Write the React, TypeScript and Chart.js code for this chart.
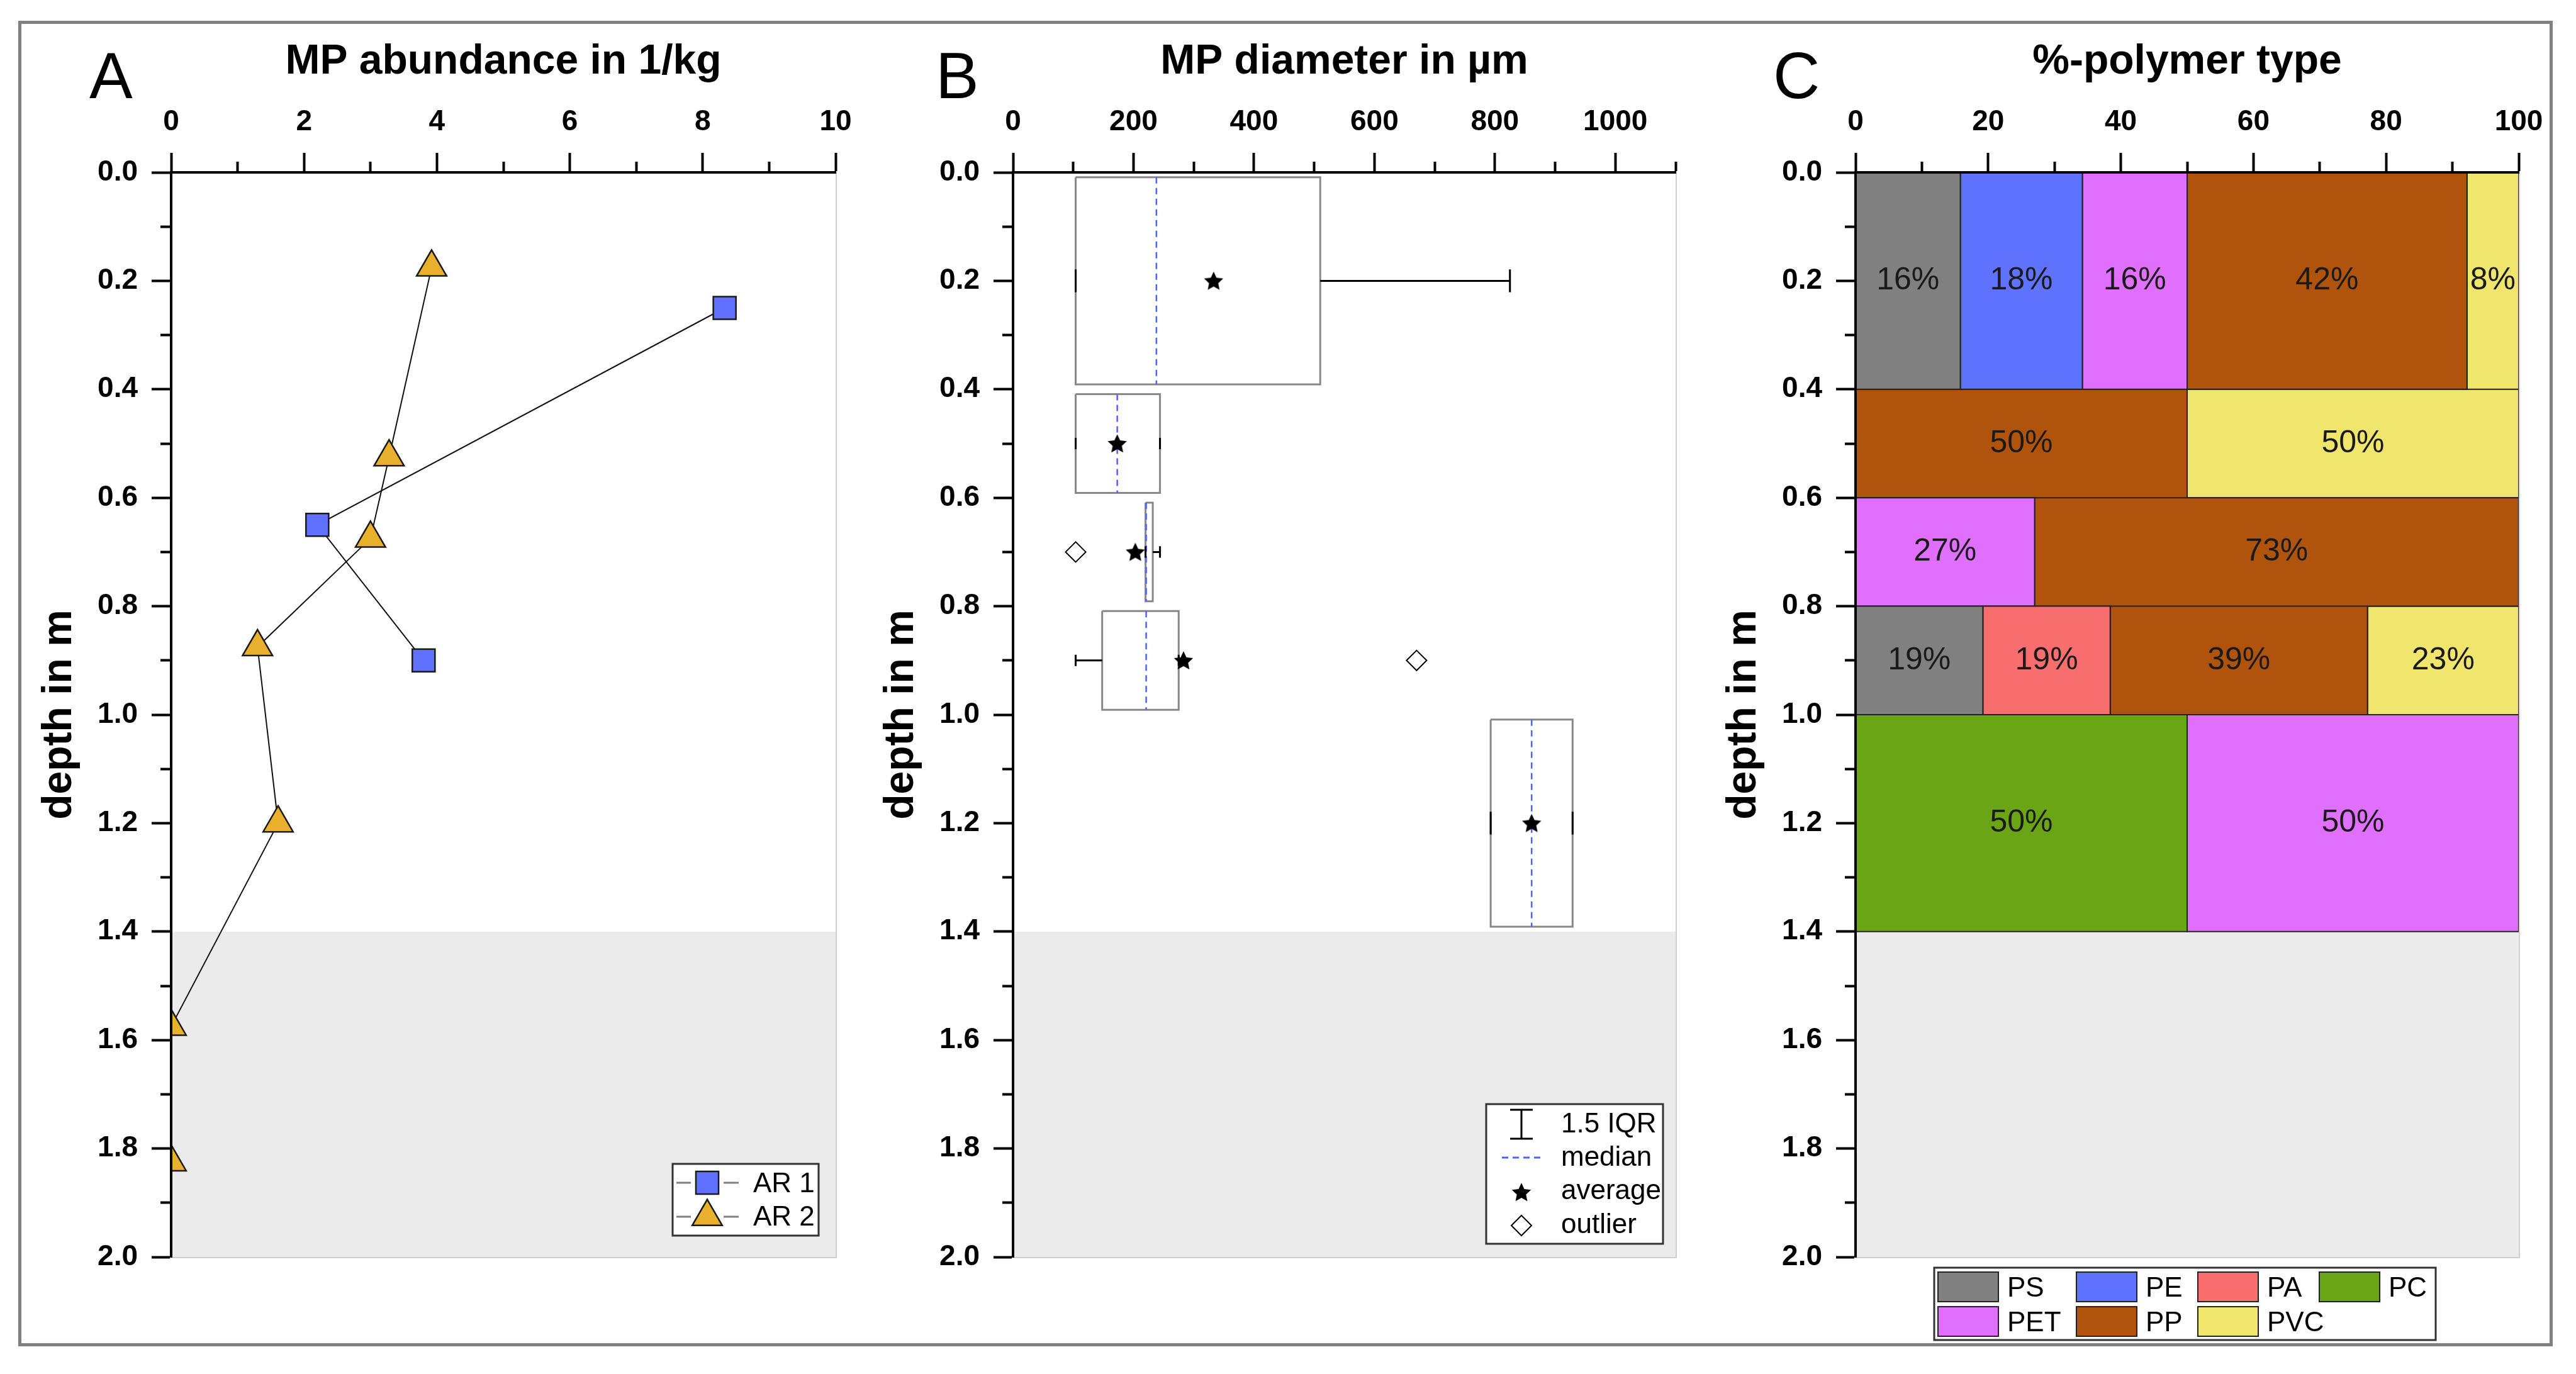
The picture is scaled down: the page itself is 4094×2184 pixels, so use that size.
import React, { useEffect, useRef } from 'react';
import { Chart, registerables } from 'chart.js';
import { drawPoint } from 'chart.js/helpers';

Chart.register(...registerables);

const FONT = "'Liberation Sans', Arial, Helvetica, sans-serif";
const W = 4094;
const H = 2184;

// ---------------- data ----------------
const DEPTH_MIN = 0;
const DEPTH_MAX = 2.0;
const DEPTH_STEP = 0.1;
const UNSAMPLED_FROM = 1.4;

// Panel A: MP abundance
const ABUND_MAX = 10;
const ABUND_TICK_LABELS = [0, 2, 4, 6, 8, 10];
const AR1_ABUNDANCE = [8.33, 2.2, 3.8];
const AR1_DEPTH = [0.25, 0.65, 0.9];
const AR2_ABUNDANCE = [3.92, 3.28, 3.0, 1.3, 1.61, 0, 0];
const AR2_DEPTH = [0.175, 0.525, 0.675, 0.875, 1.2, 1.575, 1.825];

// Panel B: MP diameter box plots (one per depth layer)
const DIAM_MAX = 1100;
const DIAM_TICK_LABELS = [0, 200, 400, 600, 800, 1000];
const LAYER_TOP = [0.0, 0.4, 0.6, 0.8, 1.0];
const LAYER_BOTTOM = [0.4, 0.6, 0.8, 1.0, 1.4];
const DIAM_WHISKER_LOW = [104, 104, 220, 104, 793];
const DIAM_Q1 = [104, 104, 220, 148, 793];
const DIAM_MEDIAN = [238, 173, 221, 221, 861];
const DIAM_Q3 = [510, 244, 232, 275, 929];
const DIAM_WHISKER_HIGH = [825, 244, 244, 275, 929];
const DIAM_MEAN = [333, 173, 203, 283, 861];
const OUTLIER_DIAM = [104, 670];
const OUTLIER_DEPTH = [0.7, 0.9];

// Panel C: polymer type shares per layer (%)
const PCT_MAX = 100;
const PCT_TICK_LABELS = [0, 20, 40, 60, 80, 100];
const POLYMERS = ['PS', 'PE', 'PA', 'PC', 'PET', 'PP', 'PVC'];
const SHARE_PS = [15.8, 0, 0, 19.2, 0];
const SHARE_PE = [18.4, 0, 0, 0, 0];
const SHARE_PA = [0, 0, 0, 19.2, 0];
const SHARE_PC = [0, 0, 0, 0, 50];
const SHARE_PET = [15.8, 0, 27, 0, 50];
const SHARE_PP = [42.2, 50, 73, 38.8, 0];
const SHARE_PVC = [7.8, 50, 0, 22.8, 0];
const SHARES = [SHARE_PS, SHARE_PE, SHARE_PA, SHARE_PC, SHARE_PET, SHARE_PP, SHARE_PVC];

// ---------------- styles / layout ----------------
const POLYMER_COLORS = ['#808080', '#5f72fe', '#f86e6e', '#6aa515', '#e16ffd', '#b0530c', '#f0e66e'];
const BAND_COLOR = '#ebebeb';
const BLUE = '#5f71fe';
const GOLD = '#e9b02e';
const BOX_INSET = 0.009;
const CAP_FRAC = 0.105;

const PLOT_TOP = 274;
const PLOT_BOTTOM = 1998;
const YAXIS_W = 272;
const PANEL_A = { left: 272, right: 1328 };
const PANEL_B = { left: 1610, right: 2663 };
const PANEL_C = { left: 2949, right: 4003 };

const GAP = { x: null, y: null };
const rectPts = (x0: number, x1: number, y0: number, y1: number) => [
  { x: x0, y: y0 }, { x: x1, y: y0 }, { x: x1, y: y1 }, { x: x0, y: y1 }, { x: x0, y: y0 },
];

const near = (v: number, list: number[]) => list.some((l) => Math.abs(l - v) < 1e-6);
const isMajorDepth = (v: number) => Math.round(v * 10) % 2 === 0;

function xAxis(max: number, step: number, labels: number[], title: string) {
  return {
    type: 'linear',
    position: 'top',
    min: 0,
    max,
    ticks: {
      stepSize: step,
      autoSkip: false,
      maxRotation: 0,
      padding: 21,
      color: '#000',
      z: 1,
      font: { family: FONT, size: 46, weight: 'bold' },
      callback: (v: any) => (near(Number(v), labels) ? String(v) : ''),
    },
    grid: {
      drawOnChartArea: false,
      drawTicks: true,
      tickLength: 31,
      tickWidth: 4,
      tickColor: '#000',
      z: 1,
      tickBorderDash: (ctx: any) => (ctx.tick && !near(ctx.tick.value, labels) ? [0, 14, 17, 100] : []),
    },
    border: { display: true, color: '#000', width: 4, z: 1 },
    title: {
      display: true,
      text: title,
      color: '#000',
      font: { family: FONT, size: 66, weight: 'bold' },
      padding: { top: 59, bottom: 0 },
    },
    afterFit: (s: any) => {
      s.height = PLOT_TOP;
    },
  };
}

function yAxis() {
  return {
    type: 'linear',
    position: 'left',
    reverse: true,
    min: DEPTH_MIN,
    max: DEPTH_MAX,
    ticks: {
      stepSize: DEPTH_STEP,
      autoSkip: false,
      padding: 22,
      color: '#000',
      z: 1,
      font: { family: FONT, size: 46, weight: 'bold' },
      callback: (v: any) => (isMajorDepth(Number(v)) ? Number(v).toFixed(1) : ''),
    },
    grid: {
      drawOnChartArea: false,
      drawTicks: true,
      tickLength: 31,
      tickWidth: 4,
      tickColor: '#000',
      z: 1,
      tickBorderDash: (ctx: any) => (ctx.tick && !isMajorDepth(ctx.tick.value) ? [0, 14, 17, 100] : []),
    },
    border: { display: true, color: '#000', width: 4, z: 1 },
    title: {
      display: true,
      text: 'depth in m',
      color: '#000',
      font: { family: FONT, size: 66, weight: 'bold' },
      padding: { top: 55, bottom: 0 },
    },
    afterFit: (s: any) => {
      s.width = YAXIS_W;
    },
  };
}

function baseOptions(panel: { left: number; right: number }, xa: any, plugins: any = {}) {
  return {
    responsive: false,
    animation: false,
    devicePixelRatio: 1,
    events: [],
    layout: {
      padding: { left: panel.left - YAXIS_W, right: W - panel.right, top: 0, bottom: H - PLOT_BOTTOM },
    },
    plugins: { legend: { display: false }, tooltip: { enabled: false }, title: { display: false }, ...plugins },
    scales: { x: xa, y: yAxis() },
  };
}

function bandDataset(xmax: number) {
  return {
    type: 'line',
    data: rectPts(0, xmax, UNSAMPLED_FROM, DEPTH_MAX),
    fill: 'shape',
    backgroundColor: BAND_COLOR,
    borderWidth: 0,
    pointRadius: 0,
    order: 10,
  };
}

function framePlugin(id: string) {
  return {
    id,
    beforeDatasetsDraw(chart: any) {
      const { ctx, chartArea: a } = chart;
      ctx.save();
      ctx.strokeStyle = '#d0d0d0';
      ctx.lineWidth = 2;
      ctx.beginPath();
      ctx.moveTo(a.right + 1, a.top);
      ctx.lineTo(a.right + 1, a.bottom + 1);
      ctx.lineTo(a.left, a.bottom + 1);
      ctx.stroke();
      ctx.restore();
    },
  };
}

function drawLetter(ctx: any, text: string, x: number) {
  ctx.save();
  ctx.font = `103px ${FONT}`;
  ctx.fillStyle = '#000';
  ctx.textAlign = 'left';
  ctx.textBaseline = 'alphabetic';
  ctx.fillText(text, x, 156);
  ctx.restore();
}

function legendBox(ctx: any, x0: number, y0: number, x1: number, y1: number) {
  ctx.fillStyle = '#fff';
  ctx.fillRect(x0, y0, x1 - x0, y1 - y0);
  ctx.strokeStyle = '#333';
  ctx.lineWidth = 3;
  ctx.strokeRect(x0, y0, x1 - x0, y1 - y0);
}

function makeStar(size: number) {
  const c = document.createElement('canvas');
  c.width = size;
  c.height = size;
  const g = c.getContext('2d')!;
  const R = size / 2;
  const r = R * 0.48;
  const cy = R * 1.08;
  g.beginPath();
  for (let k = 0; k < 10; k++) {
    const ang = -Math.PI / 2 + (k * Math.PI) / 5;
    const rad = k % 2 === 0 ? R : r;
    g.lineTo(R + rad * Math.cos(ang), cy + rad * Math.sin(ang));
  }
  g.closePath();
  g.fillStyle = '#000';
  g.fill();
  return c;
}

// ---------------- panel A ----------------
function configA() {
  const ar1 = AR1_DEPTH.map((d, i) => ({ x: AR1_ABUNDANCE[i], y: d }));
  const ar2 = AR2_DEPTH.map((d, i) => ({ x: AR2_ABUNDANCE[i], y: d }));
  const markerA = { pointStyle: 'rect', radius: 25.5, rotation: 0, borderWidth: 2.5 };
  const markerB = { pointStyle: 'triangle', radius: 27.5, rotation: 0, borderWidth: 2.5 };
  return {
    type: 'line',
    data: {
      datasets: [
        bandDataset(ABUND_MAX),
        {
          type: 'line', label: 'AR 2', data: ar2, borderColor: '#111', borderWidth: 2, tension: 0, fill: false,
          pointStyle: 'triangle', pointRadius: 27.5, pointBackgroundColor: GOLD, pointBorderColor: '#1a1a1a',
          pointBorderWidth: 2.5, order: 2,
        },
        {
          type: 'line', label: 'AR 1', data: ar1, borderColor: '#111', borderWidth: 2, tension: 0, fill: false,
          pointStyle: 'rect', pointRadius: 25.5, pointBackgroundColor: BLUE, pointBorderColor: '#1a1a1a',
          pointBorderWidth: 2.5, order: 1,
        },
      ],
    },
    options: baseOptions(PANEL_A, xAxis(ABUND_MAX, 1, ABUND_TICK_LABELS, 'MP abundance in 1/kg')),
    plugins: [
      framePlugin('frameA'),
      {
        id: 'decorA',
        afterDraw(chart: any) {
          const ctx = chart.ctx;
          ctx.save();
          drawLetter(ctx, 'A', 142);
          legendBox(ctx, 1069, 1850, 1301, 1964);
          const rows = [
            { y: 1880, base: 1895, label: 'AR 1', fill: BLUE, m: markerA },
            { y: 1934, base: 1948, label: 'AR 2', fill: GOLD, m: markerB },
          ];
          rows.forEach((r) => {
            ctx.strokeStyle = '#808080';
            ctx.lineWidth = 3;
            ctx.beginPath();
            ctx.moveTo(1075, r.y);
            ctx.lineTo(1098, r.y);
            ctx.moveTo(1150, r.y);
            ctx.lineTo(1174, r.y);
            ctx.stroke();
            ctx.fillStyle = r.fill;
            ctx.strokeStyle = '#1a1a1a';
            ctx.lineWidth = 2.5;
            drawPoint(ctx, r.m as any, 1124, r.y);
            ctx.fillStyle = '#000';
            ctx.font = `44px ${FONT}`;
            ctx.textAlign = 'left';
            ctx.textBaseline = 'alphabetic';
            ctx.fillText(r.label, 1197, r.base);
          });
          ctx.restore();
        },
      },
    ],
  };
}

// ---------------- panel B ----------------
function configB(star: HTMLCanvasElement) {
  const boxes: any[] = [];
  const medians: any[] = [];
  const whiskers: any[] = [];
  const means: any[] = [];
  LAYER_TOP.forEach((t, i) => {
    const b = LAYER_BOTTOM[i];
    const top = t + BOX_INSET;
    const bot = b - BOX_INSET;
    const c = (t + b) / 2;
    const h = (CAP_FRAC * (b - t)) / 2;
    boxes.push(...rectPts(DIAM_Q1[i], DIAM_Q3[i], top, bot), GAP);
    medians.push({ x: DIAM_MEDIAN[i], y: top }, { x: DIAM_MEDIAN[i], y: bot }, GAP);
    if (DIAM_WHISKER_LOW[i] < DIAM_Q1[i]) whiskers.push({ x: DIAM_WHISKER_LOW[i], y: c }, { x: DIAM_Q1[i], y: c }, GAP);
    if (DIAM_WHISKER_HIGH[i] > DIAM_Q3[i]) whiskers.push({ x: DIAM_Q3[i], y: c }, { x: DIAM_WHISKER_HIGH[i], y: c }, GAP);
    whiskers.push({ x: DIAM_WHISKER_LOW[i], y: c - h }, { x: DIAM_WHISKER_LOW[i], y: c + h }, GAP);
    whiskers.push({ x: DIAM_WHISKER_HIGH[i], y: c - h }, { x: DIAM_WHISKER_HIGH[i], y: c + h }, GAP);
    means.push({ x: DIAM_MEAN[i], y: c });
  });
  const outliers = OUTLIER_DEPTH.map((d, i) => ({ x: OUTLIER_DIAM[i], y: d }));
  return {
    type: 'line',
    data: {
      datasets: [
        bandDataset(DIAM_MAX),
        { type: 'line', data: boxes, borderColor: '#888', borderWidth: 3, borderJoinStyle: 'miter', pointRadius: 0, fill: false, order: 5 },
        { type: 'line', data: medians, borderColor: '#4f63ff', borderWidth: 2.5, borderDash: [10, 7], pointRadius: 0, fill: false, order: 4 },
        { type: 'line', data: whiskers, borderColor: '#000', borderWidth: 3, pointRadius: 0, fill: false, order: 3 },
        { type: 'line', data: outliers, showLine: false, pointStyle: 'rectRot', pointRadius: 16, pointBackgroundColor: '#fff', pointBorderColor: '#000', pointBorderWidth: 2, order: 2 },
        { type: 'line', data: means, showLine: false, pointStyle: star, pointRadius: 15, order: 1 },
      ],
    },
    options: baseOptions(PANEL_B, xAxis(DIAM_MAX, 100, DIAM_TICK_LABELS, 'MP diameter in µm')),
    plugins: [
      framePlugin('frameB'),
      {
        id: 'decorB',
        afterDraw(chart: any) {
          const ctx = chart.ctx;
          ctx.save();
          drawLetter(ctx, 'B', 1487);
          legendBox(ctx, 2362, 1755, 2643, 1977);
          const sx = 2418;
          // 1.5 IQR symbol
          ctx.strokeStyle = '#000';
          ctx.lineWidth = 3;
          ctx.beginPath();
          ctx.moveTo(sx, 1764);
          ctx.lineTo(sx, 1810);
          ctx.moveTo(sx - 18, 1764);
          ctx.lineTo(sx + 18, 1764);
          ctx.moveTo(sx - 18, 1810);
          ctx.lineTo(sx + 18, 1810);
          ctx.stroke();
          // median symbol
          ctx.strokeStyle = '#4f63ff';
          ctx.lineWidth = 3;
          ctx.setLineDash([10, 7]);
          ctx.beginPath();
          ctx.moveTo(2387, 1840);
          ctx.lineTo(2450, 1840);
          ctx.stroke();
          ctx.setLineDash([]);
          // average
          ctx.drawImage(star, sx - star.width / 2, 1895 - star.height / 2);
          // outlier
          ctx.fillStyle = '#fff';
          ctx.strokeStyle = '#000';
          ctx.lineWidth = 2;
          drawPoint(ctx, { pointStyle: 'rectRot', radius: 16, rotation: 0, borderWidth: 2 } as any, sx, 1948);
          ctx.fillStyle = '#000';
          ctx.font = `44px ${FONT}`;
          ctx.textAlign = 'left';
          ctx.textBaseline = 'alphabetic';
          ctx.fillText('1.5 IQR', 2481, 1800);
          ctx.fillText('median', 2481, 1853);
          ctx.fillText('average', 2481, 1906);
          ctx.fillText('outlier', 2481, 1960);
          ctx.restore();
        },
      },
    ],
  };
}

// ---------------- panel C ----------------
function configC() {
  const starts = LAYER_TOP.map(() => 0);
  const rects: { x0: number; x1: number; t: number; b: number; v: number }[] = [];
  const polymerSets = POLYMERS.map((name, p) => {
    const pts: any[] = [];
    LAYER_TOP.forEach((t, i) => {
      const v = SHARES[p][i];
      if (v > 0) {
        const x0 = starts[i];
        const x1 = x0 + v;
        pts.push(...rectPts(x0, x1, t, LAYER_BOTTOM[i]), GAP);
        rects.push({ x0, x1, t, b: LAYER_BOTTOM[i], v });
        starts[i] = x1;
      }
    });
    return {
      type: 'line',
      label: name,
      data: pts,
      fill: 'shape',
      backgroundColor: POLYMER_COLORS[p],
      borderColor: '#222',
      borderWidth: 2,
      borderJoinStyle: 'miter',
      pointRadius: 0,
      order: 1,
    };
  });
  const cols = [3080, 3300, 3493, 3686];
  return {
    type: 'line',
    data: { datasets: [bandDataset(PCT_MAX), ...polymerSets] },
    options: baseOptions(PANEL_C, xAxis(PCT_MAX, 10, PCT_TICK_LABELS, '%-polymer type')),
    plugins: [
      framePlugin('frameC'),
      {
        id: 'segLabels',
        afterDatasetsDraw(chart: any) {
          const { ctx, scales } = chart;
          ctx.save();
          ctx.font = `50px ${FONT}`;
          ctx.fillStyle = '#1a1a1a';
          ctx.textAlign = 'center';
          ctx.textBaseline = 'middle';
          rects.forEach((r) => {
            const cx = scales.x.getPixelForValue((r.x0 + r.x1) / 2);
            const cy = scales.y.getPixelForValue((r.t + r.b) / 2);
            ctx.fillText(`${Math.round(r.v)}%`, cx, cy);
          });
          ctx.restore();
        },
      },
      {
        id: 'decorC',
        afterDraw(chart: any) {
          const ctx = chart.ctx;
          ctx.save();
          drawLetter(ctx, 'C', 2818);
          legendBox(ctx, 3074, 2015, 3871, 2130);
          POLYMERS.forEach((name, p) => {
            const row = p < 4 ? 0 : 1;
            const col = p < 4 ? p : p - 4;
            const x = cols[col];
            const y = row === 0 ? 2022 : 2077;
            ctx.fillStyle = POLYMER_COLORS[p];
            ctx.fillRect(x, y, 96, 47);
            ctx.strokeStyle = '#222';
            ctx.lineWidth = 2;
            ctx.strokeRect(x, y, 96, 47);
            ctx.fillStyle = '#000';
            ctx.font = `44px ${FONT}`;
            ctx.textAlign = 'left';
            ctx.textBaseline = 'alphabetic';
            ctx.fillText(name, x + 110, row === 0 ? 2061 : 2116);
          });
          ctx.restore();
        },
      },
    ],
  };
}

export default function App() {
  const aRef = useRef<HTMLCanvasElement>(null);
  const bRef = useRef<HTMLCanvasElement>(null);
  const cRef = useRef<HTMLCanvasElement>(null);

  useEffect(() => {
    const star = makeStar(32);
    const charts = [
      new Chart(aRef.current as any, configA() as any),
      new Chart(bRef.current as any, configB(star) as any),
      new Chart(cRef.current as any, configC() as any),
    ];
    return () => charts.forEach((c) => c.destroy());
  }, []);

  const canvasStyle: React.CSSProperties = { position: 'absolute', left: 0, top: 0, width: W, height: H };
  return (
    <div style={{ position: 'fixed', left: 0, top: 0, width: W, height: H, background: '#fff', overflow: 'hidden' }}>
      <div
        style={{
          position: 'absolute', left: 29, top: 33, width: 4028, height: 2107,
          border: '5px solid #808080', boxSizing: 'border-box',
        }}
      />
      <canvas ref={aRef} width={W} height={H} style={canvasStyle} />
      <canvas ref={bRef} width={W} height={H} style={canvasStyle} />
      <canvas ref={cRef} width={W} height={H} style={canvasStyle} />
    </div>
  );
}
